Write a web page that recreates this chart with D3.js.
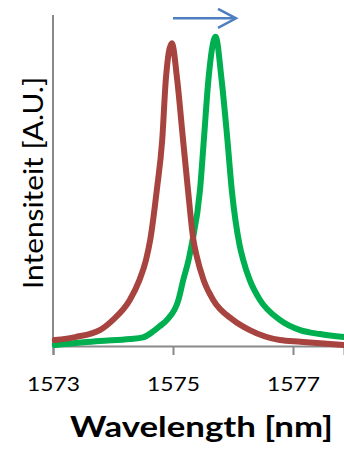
<!DOCTYPE html>
<html>
<head>
<meta charset="utf-8">
<script src="https://cdn.jsdelivr.net/npm/d3@7"></script>
<style>
  body { margin: 0; background: #fff; }
  svg { display: block; }
</style>
</head>
<body>
<svg id="chart"></svg>
<script>
// wavelength (nm) / intensity (A.U.)
const redWavelength = [1573.03, 1573.37, 1573.78, 1574.0, 1574.28, 1574.44, 1574.55, 1574.62, 1574.73, 1574.82, 1574.88, 1574.98, 1575.07, 1575.16, 1575.25, 1575.34, 1575.39, 1575.51, 1575.67, 1576.0, 1576.28, 1576.78, 1577.12, 1577.85];
const redIntensity = [0.018, 0.027, 0.048, 0.079, 0.139, 0.199, 0.26, 0.32, 0.471, 0.622, 0.804, 0.915, 0.804, 0.637, 0.471, 0.32, 0.275, 0.199, 0.139, 0.079, 0.048, 0.018, 0.013, 0.003];

const greenWavelength = [1573.03, 1573.78, 1574.28, 1574.5, 1574.67, 1574.78, 1574.9, 1575.09, 1575.17, 1575.26, 1575.31, 1575.45, 1575.52, 1575.59, 1575.71, 1575.81, 1575.9, 1575.98, 1576.11, 1576.17, 1576.28, 1576.45, 1576.78, 1577.12, 1577.45, 1577.85];
const greenIntensity = [0.003, 0.015, 0.021, 0.026, 0.044, 0.06, 0.079, 0.139, 0.199, 0.26, 0.305, 0.471, 0.637, 0.804, 0.934, 0.804, 0.637, 0.471, 0.305, 0.26, 0.199, 0.139, 0.079, 0.048, 0.036, 0.027];

const xTicks = [1573, 1575, 1577];
const shiftArrow = [1575, 1576.05]; // red peak -> green peak
const shiftArrowLevel = 0.99;

const w = 344, h = 449;
const margin = { top: 15, right: 0, bottom: 103, left: 53 };

const svg = d3.select('#chart').attr('width', w).attr('height', h);

const x = d3.scaleLinear()
  .domain([1573, 1577.85])
  .range([margin.left, w - margin.right]);
const y = d3.scaleLinear()
  .domain([0, 1])
  .range([h - margin.bottom, margin.top]);

const axisColor = '#898989';
const font = 'Lato, "Open Sans", sans-serif';

// y axis: plain line
svg.append('line')
  .attr('x1', x(1573)).attr('x2', x(1573))
  .attr('y1', y(1)).attr('y2', y(0))
  .attr('stroke', axisColor).attr('stroke-width', 2);

// x axis
const xAxis = svg.append('g')
  .attr('transform', `translate(0, ${y(0)})`)
  .call(d3.axisBottom(x).tickValues(xTicks).tickSize(9).tickFormat(d3.format('d')));
xAxis.select('.domain').attr('stroke', axisColor).attr('stroke-width', 2);
xAxis.selectAll('.tick line').attr('stroke', axisColor).attr('stroke-width', 2);
xAxis.selectAll('.tick text')
  .attr('y', 0).attr('dy', 45)
  .attr('fill', '#000')
  .style('font-family', font)
  .style('font-size', '20px')
  .attr('textLength', 53)
  .attr('lengthAdjust', 'spacingAndGlyphs');

const line = d3.line()
  .x(d => x(d[0]))
  .y(d => y(d[1]))
  .curve(d3.curveMonotoneX);

const series = [
  { xs: greenWavelength, ys: greenIntensity, color: '#00B050' },
  { xs: redWavelength, ys: redIntensity, color: '#A8443F' }
];

series.forEach(s => {
  svg.append('path')
    .datum(s.xs.map((v, i) => [v, s.ys[i]]))
    .attr('d', line)
    .attr('fill', 'none')
    .attr('stroke', s.color)
    .attr('stroke-width', 6)
    .attr('stroke-linejoin', 'round')
    .attr('stroke-linecap', 'round');
});

// shift arrow
const ay = y(shiftArrowLevel);
const ax0 = x(shiftArrow[0]), ax1 = x(shiftArrow[1]);
svg.append('line')
  .attr('x1', ax0).attr('x2', ax1 - 1)
  .attr('y1', ay).attr('y2', ay)
  .attr('stroke', '#4E7FBF').attr('stroke-width', 2.5);
svg.append('path')
  .attr('d', `M${ax1 - 18},${ay - 9.5} L${ax1},${ay} L${ax1 - 18},${ay + 9.5}`)
  .attr('fill', 'none')
  .attr('stroke', '#4E7FBF').attr('stroke-width', 2.5);

// axis titles
svg.append('text')
  .attr('x', (70 + 333) / 2).attr('y', 437)
  .attr('text-anchor', 'middle')
  .style('font-family', font)
  .style('font-weight', 'bold')
  .style('font-size', '28px')
  .attr('textLength', 263)
  .attr('lengthAdjust', 'spacingAndGlyphs')
  .text('Wavelength [nm]');

svg.append('text')
  .attr('transform', `translate(43, 183) rotate(-90)`)
  .attr('text-anchor', 'middle')
  .style('font-family', font)
  .style('font-size', '27px')
  .attr('textLength', 212)
  .attr('lengthAdjust', 'spacingAndGlyphs')
  .text('Intensiteit [A.U.]');
</script>
</body>
</html>
